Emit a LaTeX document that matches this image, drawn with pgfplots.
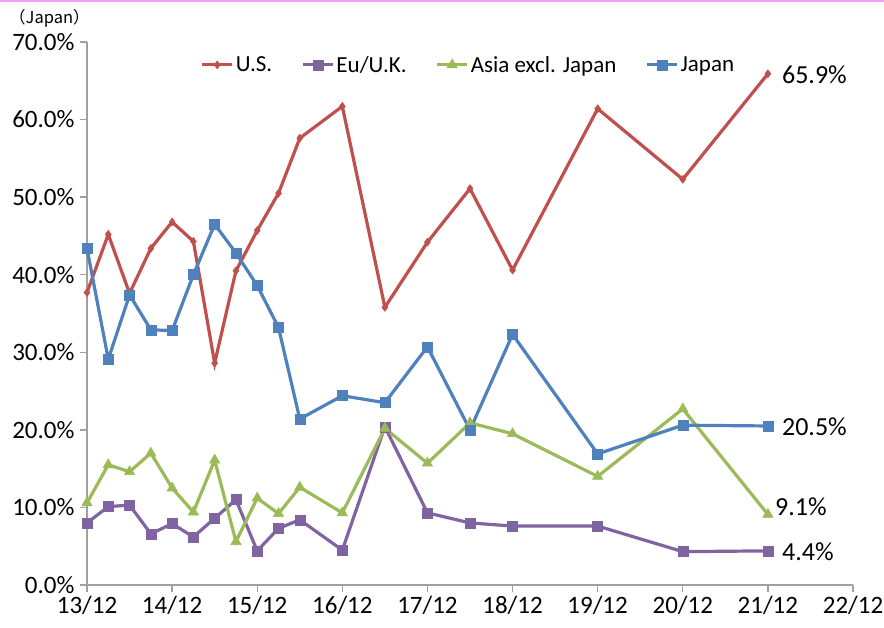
\documentclass[border=0pt]{standalone}
\usepackage{pgfplots}
\pgfplotsset{compat=1.18}
\usepackage{fontspec}
\setmainfont{Carlito}
\newfontfamily\cjk{Noto Sans CJK JP}
\definecolor{cUS}{HTML}{C0504D}
\definecolor{cEU}{HTML}{8064A2}
\definecolor{cAS}{HTML}{9BBB59}
\definecolor{cJP}{HTML}{4F81BD}
\definecolor{axgray}{HTML}{A0A0A0}
\definecolor{pinkline}{HTML}{F4A0F4}
\pgfplotstableread{
x us eu as jp
0.00 37.7 8.0 10.6 43.4
0.25 45.2 10.1 15.5 29.1
0.50 37.6 10.3 14.6 37.4
0.75 43.4 6.6 17.0 32.9
1.00 46.8 7.9 12.5 32.8
1.25 44.3 6.2 9.4 40.0
1.50 28.6 8.6 16.1 46.5
1.75 40.5 11.0 5.6 42.8
2.00 45.7 4.4 11.2 38.6
2.25 50.5 7.3 9.2 33.2
2.50 57.6 8.4 12.6 21.4
3.00 61.7 4.5 9.3 24.4
3.50 35.8 20.4 20.2 23.5
4.00 44.2 9.3 15.7 30.7
4.50 51.1 8.0 20.9 20.0
5.00 40.6 7.6 19.5 32.3
6.00 61.4 7.6 14.0 16.9
7.00 52.3 4.3 22.7 20.6
8.00 65.9 4.4 9.1 20.5
}\data
\begin{document}
\begin{tikzpicture}[x=1pt,y=1pt]
\path[use as bounding box] (0,0) rectangle (884,627);
\fill[pinkline] (0,625) rectangle (884,627);
\node[anchor=west,font=\cjk\fontsize{16.5}{18}\selectfont,inner sep=0pt] at (9,609) {（Japan）};
\begin{axis}[
  at={(87pt,42pt)}, anchor=origin,
  scale only axis, width=766pt, height=543pt,
  xmin=0, xmax=9, ymin=0, ymax=70,
  axis x line=bottom, axis y line=left,
  axis line style={axgray, line width=1.3pt, -},
  every tick/.style={axgray, line width=1.3pt},
  tick align=outside, major tick length=7pt,
  xtick={0,...,9},
  xticklabels={13/12,14/12,15/12,16/12,17/12,18/12,19/12,20/12,21/12,22/12},
  ytick={0,10,...,70},
  yticklabel={\pgfmathprintnumber[fixed,fixed zerofill,precision=1]{\tick}\%},
  /pgf/number format/assume math mode=true,
  ticklabel style={font=\fontsize{25}{26}\selectfont, text=black},
  yticklabel style={xshift=-2pt},
  xticklabel style={yshift=-1pt},
  clip=false,
  legend columns=4,
  legend style={at={(rel axis cs:0.148,0.978)}, anchor=north west, draw=none, fill=none,
    font=\fontsize{23}{25}\selectfont, inner sep=0pt,
    /tikz/every even column/.append style={column sep=27pt},
    nodes={inner sep=2pt, anchor=west}},
  legend image code/.code={\draw[mark repeat=2,mark phase=2,#1] plot coordinates {(0pt,0pt) (15pt,0pt) (30pt,0pt)};},
]
\addplot[cUS, line width=3.2pt, mark=diamond*, mark size=4pt, mark options={solid, line width=0.5pt}] table[x=x,y=us]{\data};
\addlegendentry{U.S.}
\addplot[cEU, line width=3.2pt, mark=square*, mark size=5pt, mark options={solid, line width=0.5pt}] table[x=x,y=eu]{\data};
\addlegendentry{Eu/U.K.}
\addplot[cAS, line width=3.2pt, mark=triangle*, mark size=6pt, mark options={solid, line width=0.5pt}] table[x=x,y=as]{\data};
\addlegendentry{Asia excl. Japan}
\addplot[cJP, line width=3.2pt, mark=square*, mark size=5pt, mark options={solid, line width=0.5pt}] table[x=x,y=jp]{\data};
\addlegendentry{Japan}
\node[anchor=west, font=\fontsize{26}{28}\selectfont, inner sep=0pt] at (axis cs:8,65.9) [xshift=14pt,yshift=-1pt] {65.9\%};
\node[anchor=west, font=\fontsize{26}{28}\selectfont, inner sep=0pt] at (axis cs:8,20.5) [xshift=14pt,yshift=-1pt] {20.5\%};
\node[anchor=west, font=\fontsize{26}{28}\selectfont, inner sep=0pt] at (axis cs:8,9.1) [xshift=7pt,yshift=8pt] {9.1\%};
\node[anchor=west, font=\fontsize{26}{28}\selectfont, inner sep=0pt] at (axis cs:8,4.4) [xshift=14pt,yshift=-1pt] {4.4\%};
\end{axis}
\end{tikzpicture}
\end{document}
